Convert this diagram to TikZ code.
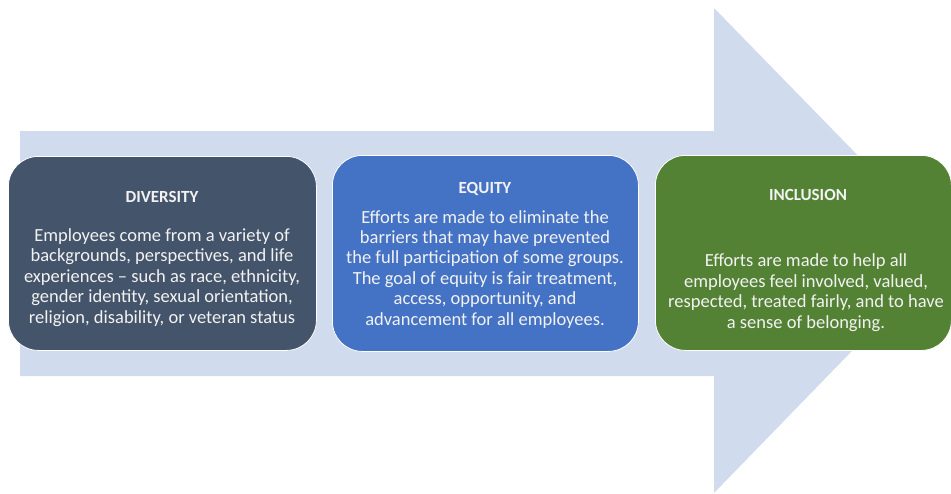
\documentclass[tikz,border=0pt]{standalone}
\usepackage{fontspec}
\setmainfont{Carlito}
\definecolor{arrowblue}{RGB}{208,219,237}
\definecolor{slate}{RGB}{68,84,106}
\definecolor{equityblue}{RGB}{68,114,196}
\definecolor{inclgreen}{RGB}{84,130,53}
\definecolor{paper}{RGB}{242,242,242}
\tikzset{
	card/.style={rounded corners=30pt,draw=white,line width=.8pt,anchor=north west,inner sep=0pt},
	head/.style={anchor=base,inner sep=0pt,text=paper,font=\fontsize{17}{20}\selectfont\bfseries},
	% base of a multi-line body sits on its last line
	body/.style={anchor=base,inner sep=0pt,text=paper,align=center,font=\fontsize{18.5}{20.4}\selectfont}
}
\begin{document}
\begin{tikzpicture}[x=1pt,y=-1pt]
			\useasboundingbox (0,0) rectangle (951,493);
			% big arrow behind the cards
			\fill[arrowblue] (20,131) -- (714,131) -- (714,8) -- (950,250)
				-- (714,493) -- (714,376) -- (20,376) -- cycle;
			% the three cards
			\node[card,fill=slate,minimum width=308pt,minimum height=194pt] (div) at (8,156) {};
			\node[card,fill=equityblue,minimum width=306pt,minimum height=196pt] (equ) at (332,155) {};
			\node[card,fill=inclgreen,minimum width=296pt,minimum height=195pt] (inc) at (655,155) {};
			\node[head] (divhead) at (162,202) {DIVERSITY};
			\node[body] (divtext) at (162,323)
				{Employees come from a variety of\\backgrounds, perspectives, and life\\experiences -- such as race, ethnicity,\\gender identity, sexual orientation,\\religion, disability, or veteran status};
			\node[head] (equhead) at (485,193) {EQUITY};
			\node[body] (equtext) at (485,325)
				{Efforts are made to eliminate the\\barriers that may have prevented\\the full participation of some groups.\\The goal of equity is fair treatment,\\access, opportunity, and\\advancement for all employees.};
			\node[head] (inchead) at (808,200) {INCLUSION};
			\node[body] (inctext) at (806,328)
				{Efforts are made to help all\\employees feel involved, valued,\\respected, treated fairly, and to have\\a sense of belonging.};
		\end{tikzpicture}
\end{document}
